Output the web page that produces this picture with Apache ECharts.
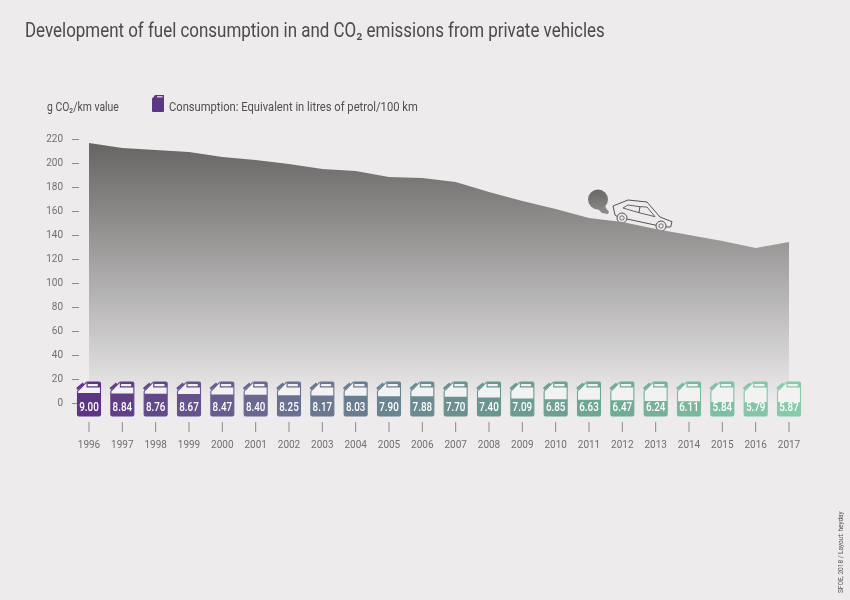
<!DOCTYPE html>
<html><head><meta charset="utf-8">
<style>html,body{margin:0;padding:0;background:#edebec}#c{width:850px;height:600px}</style>
<script src="https://cdn.jsdelivr.net/npm/echarts@6/dist/echarts.min.js"></script>
</head><body><div id="c"></div>
<script>
const years = ['1996','1997','1998','1999','2000','2001','2002','2003','2004','2005','2006','2007','2008','2009','2010','2011','2012','2013','2014','2015','2016','2017'];
const co2 = [216.7,212.5,210.8,209.2,205,202.5,199.2,195,193.3,188.3,187.5,184.2,175.8,168.3,161.7,154.2,150.8,145,140,135,129.2,134.2];
const litres = [9.00,8.84,8.76,8.67,8.47,8.40,8.25,8.17,8.03,7.90,7.88,7.70,7.40,7.09,6.85,6.63,6.47,6.24,6.11,5.84,5.79,5.87];
const yTicks = {min:0,max:220,interval:20};
const canStops = ['#5d3585','#6b6a92','#6a8f8f','#6fa994','#88cbaa'];
const FONT = 'Roboto';
const chart = echarts.init(document.getElementById('c'));
const bg = '#edebec';
const canPath = 'M2 9 L8 3 Q9 2 10 2 L21.5 2 Q23 2 23 3.5 L23 32.5 Q23 34 21.5 34 L1.5 34 Q0 34 0 32.5 L0 11 Q0 10 2 9 Z';
function can(params, api){
  const i = api.value(0), v = api.value(1);
  const c = api.coord([i, v]);
  const bottom = api.coord([i, 1])[1];
  const cx = c[0];
  const color = echarts.color.lerp(params.dataIndex/(years.length-1), canStops);
  const w = 23, h = 34, left = cx-11.5, top = bottom-h;
  return {type:'group', children:[
    {type:'line', shape:{x1:cx,y1:bottom+6,x2:cx,y2:bottom+16}, style:{stroke:'#8a8a8a',lineWidth:1}},
    {type:'path', shape:{pathData:canPath,x:left,y:top,width:w,height:h,layout:'cover'}, style:{fill:'#f3f2f2',stroke:color,lineWidth:1.1}},
    {type:'rect', shape:{x:left,y:c[1],width:w,height:bottom-c[1],r:[0,0,1.5,1.5]}, style:{fill:color}},
    {type:'line', shape:{x1:left-0.5,y1:top+7,x2:left+6,y2:top+1.5}, style:{stroke:color,lineWidth:2.6}},
    {type:'rect', shape:{x:left+9,y:top,width:14,height:5.5,r:[1.5,1.5,0,0]}, style:{fill:color}},
    {type:'rect', shape:{x:left+10,y:top+2,width:10.5,height:2.2,r:1}, style:{fill:'#f3f2f2'}},
    {type:'text', x:cx, y:bottom-8, scaleX:0.82, style:{text:v.toFixed(2),x:0,y:0,align:'center',verticalAlign:'middle',fill:'#fff',font:'500 12px '+FONT}}
  ]};
}
const legendCan = {type:'group',left:152,top:95,children:[
  {type:'rect',shape:{x:1,y:4,width:12,height:14,r:1},style:{fill:'#5d3585'}},
  {type:'polygon',shape:{points:[[1,5],[4,1],[13,1],[13,5]]},style:{fill:'#5d3585'}},
  {type:'rect',shape:{x:6,y:2.2,width:5.5,height:1.2},style:{fill:'#edebec'}}
]};
const ink = '#555';
const car = {type:'group',silent:true,children:[
  {type:'polygon',shape:{points:[[596,207],[604,203],[606,208],[609,212],[608,214],[602,213]]},style:{fill:'#8a8988'}},
  {type:'circle',shape:{cx:598,cy:199.5,r:10},style:{fill:new echarts.graphic.LinearGradient(0,0,0,1,[{offset:0,color:'#6a6968'},{offset:1,color:'#858483'}])}},
  {type:'polygon',shape:{points:[[613,206],[628,200],[647,202],[660,217],[672,221.7],[670.7,227],[667,227],[655,225],[627,219],[618,217],[615,215]]},style:{fill:bg,stroke:ink,lineWidth:1}},
  {type:'polygon',shape:{points:[[623,208],[628,205],[640,206.7],[639,212.7]]},style:{fill:bg,stroke:ink,lineWidth:0.9}},
  {type:'polygon',shape:{points:[[640,206.7],[647,207],[655,216.7],[639,212.7]]},style:{fill:bg,stroke:ink,lineWidth:0.9}},
  {type:'circle',shape:{cx:622,cy:218,r:5},style:{fill:bg,stroke:ink,lineWidth:1}},
  {type:'circle',shape:{cx:622,cy:218,r:2.2},style:{fill:bg,stroke:ink,lineWidth:0.8}},
  {type:'circle',shape:{cx:661,cy:226,r:5},style:{fill:bg,stroke:ink,lineWidth:1}},
  {type:'circle',shape:{cx:661,cy:226,r:2.2},style:{fill:bg,stroke:ink,lineWidth:0.8}}
]};
chart.setOption({
  animation:false,
  backgroundColor:bg,
  grid:{left:89,right:61,top:139,bottom:197},
  xAxis:{type:'category',data:years,boundaryGap:false,position:'bottom',offset:19,
    axisLine:{show:false},axisTick:{show:false},
    axisLabel:{interval:0,margin:18,fontFamily:FONT,fontSize:10,color:'#707070'},splitLine:{show:false}},
  yAxis:[
    {type:'value',min:yTicks.min,max:yTicks.max,interval:yTicks.interval,offset:10,
     axisLine:{show:false},axisTick:{show:true,length:7,lineStyle:{color:'#8a8a8a'}},
     axisLabel:{margin:16,fontFamily:FONT,fontSize:10,color:'#707070'},splitLine:{show:false}},
    {type:'value',min:5.53,max:97.35,show:false,splitLine:{show:false}}
  ],
  series:[
    {type:'line',data:co2,symbol:'none',lineStyle:{width:0},z:1,
     areaStyle:{opacity:1,color:new echarts.graphic.LinearGradient(0,0,0,1,[{offset:0,color:'#666563'},{offset:1,color:bg}])}},
    {type:'custom',yAxisIndex:1,clip:false,z:3,renderItem:can,encode:{x:0,y:1},
     data:years.map((y,i)=>[y,litres[i]])}
  ],
  graphic:[
    {type:'text',x:25,y:32,scaleX:0.868,style:{text:'Development of fuel consumption in and CO₂ emissions from private vehicles',x:0,y:0,verticalAlign:'middle',font:'400 19.5px '+FONT,fill:'#4a4a4a'}},
    {type:'text',x:47,y:108,scaleX:0.8,style:{text:'g CO₂/km value',x:0,y:0,verticalAlign:'middle',font:'400 13px '+FONT,fill:'#4f4f4f'}},
    {type:'text',x:169,y:108,scaleX:0.86,style:{text:'Consumption: Equivalent in litres of petrol/100 km',x:0,y:0,verticalAlign:'middle',font:'400 13px '+FONT,fill:'#4f4f4f'}},
    legendCan,car,
    {type:'text',x:845,y:593,rotation:Math.PI/2,scaleX:0.81,style:{text:'SFOE, 2018 / Layout: heyday',x:0,y:0,font:'400 8px '+FONT,fill:'#555',align:'left',verticalAlign:'bottom'}}
  ]
});
</script></body></html>
